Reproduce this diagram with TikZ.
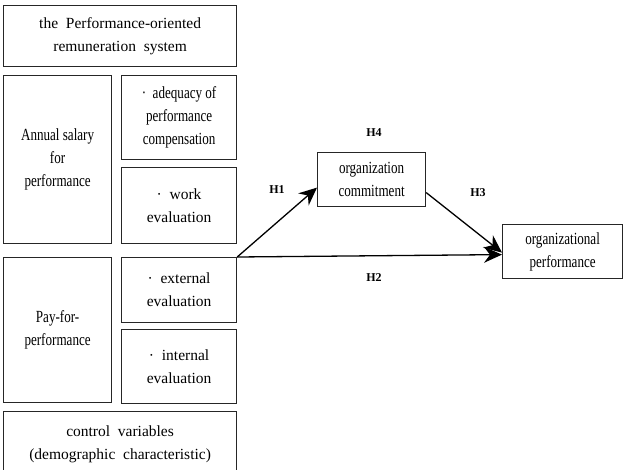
\documentclass[tikz,border=0pt]{standalone}
\usepackage{fontspec}
\setmainfont{Liberation Serif}
\newfontfamily\narrowfont[FakeStretch=0.77]{Liberation Serif}
\usetikzlibrary{arrows.meta}

\begin{document}
\begin{tikzpicture}[x=1pt, y=-1pt,
		box/.style={draw=black!85, line width=1.2pt, anchor=north west, inner sep=0pt, align=center, font=\fontsize{15.5}{23}\selectfont},
		narrow/.style={font=\narrowfont\fontsize{17}{23}\selectfont},
		hyp/.style={font=\bfseries\fontsize{12}{14}\selectfont},
		link/.style={line width=1.3pt, -{Stealth[length=18pt, width=16pt, inset=6pt]}}]
		\useasboundingbox (0,0) rectangle (623,469);
		\clip (0,0) rectangle (623,469);
		% left column
		\node [box, minimum width=233, minimum height=61] (system) at (3,5) {the~~Performance-oriented\\remuneration~~system};
		\node [box, narrow, minimum width=108, minimum height=168] (annual) at (3,75) {Annual salary\\for\\performance};
		\node [box, narrow, minimum width=115, minimum height=84] (adequacy) at (121,75) {\textperiodcentered~~adequacy of\\performance\\compensation};
		\node [box, minimum width=115, minimum height=76] (work) at (121,167) {\textperiodcentered~~work\\evaluation};
		\node [box, narrow, minimum width=108, minimum height=145] (pay) at (3,257) {Pay-for-\\performance};
		\node [box, minimum width=115, minimum height=65] (external) at (121,257) {\textperiodcentered~~external\\evaluation};
		\node [box, minimum width=115, minimum height=74] (internal) at (121,329) {\textperiodcentered~~internal\\evaluation};
		\node [box, minimum width=233, minimum height=65] (control) at (3,411) {control~~variables\\(demographic~~characteristic)};
		% right part
		\node [box, narrow, minimum width=108, minimum height=54] (commit) at (317,152) {organization\\commitment};
		\node [box, narrow, minimum width=120, minimum height=54] (perf) at (502,224) {organizational\\performance};
		\draw [link] (external.north east) -- ([yshift=-8pt]commit.west);
		\draw [link] (external.north east) -- ([yshift=-3pt]perf.west);
		\draw [link] ([yshift=-13pt]commit.east) -- ([yshift=-1pt]perf.west);
		\node [hyp] (h4) at (374,133) {H4};
		\node [hyp] (h1) at (277,190) {H1};
		\node [hyp] (h3) at (478,193) {H3};
		\node [hyp] (h2) at (374,278) {H2};
	\end{tikzpicture}
\end{document}
